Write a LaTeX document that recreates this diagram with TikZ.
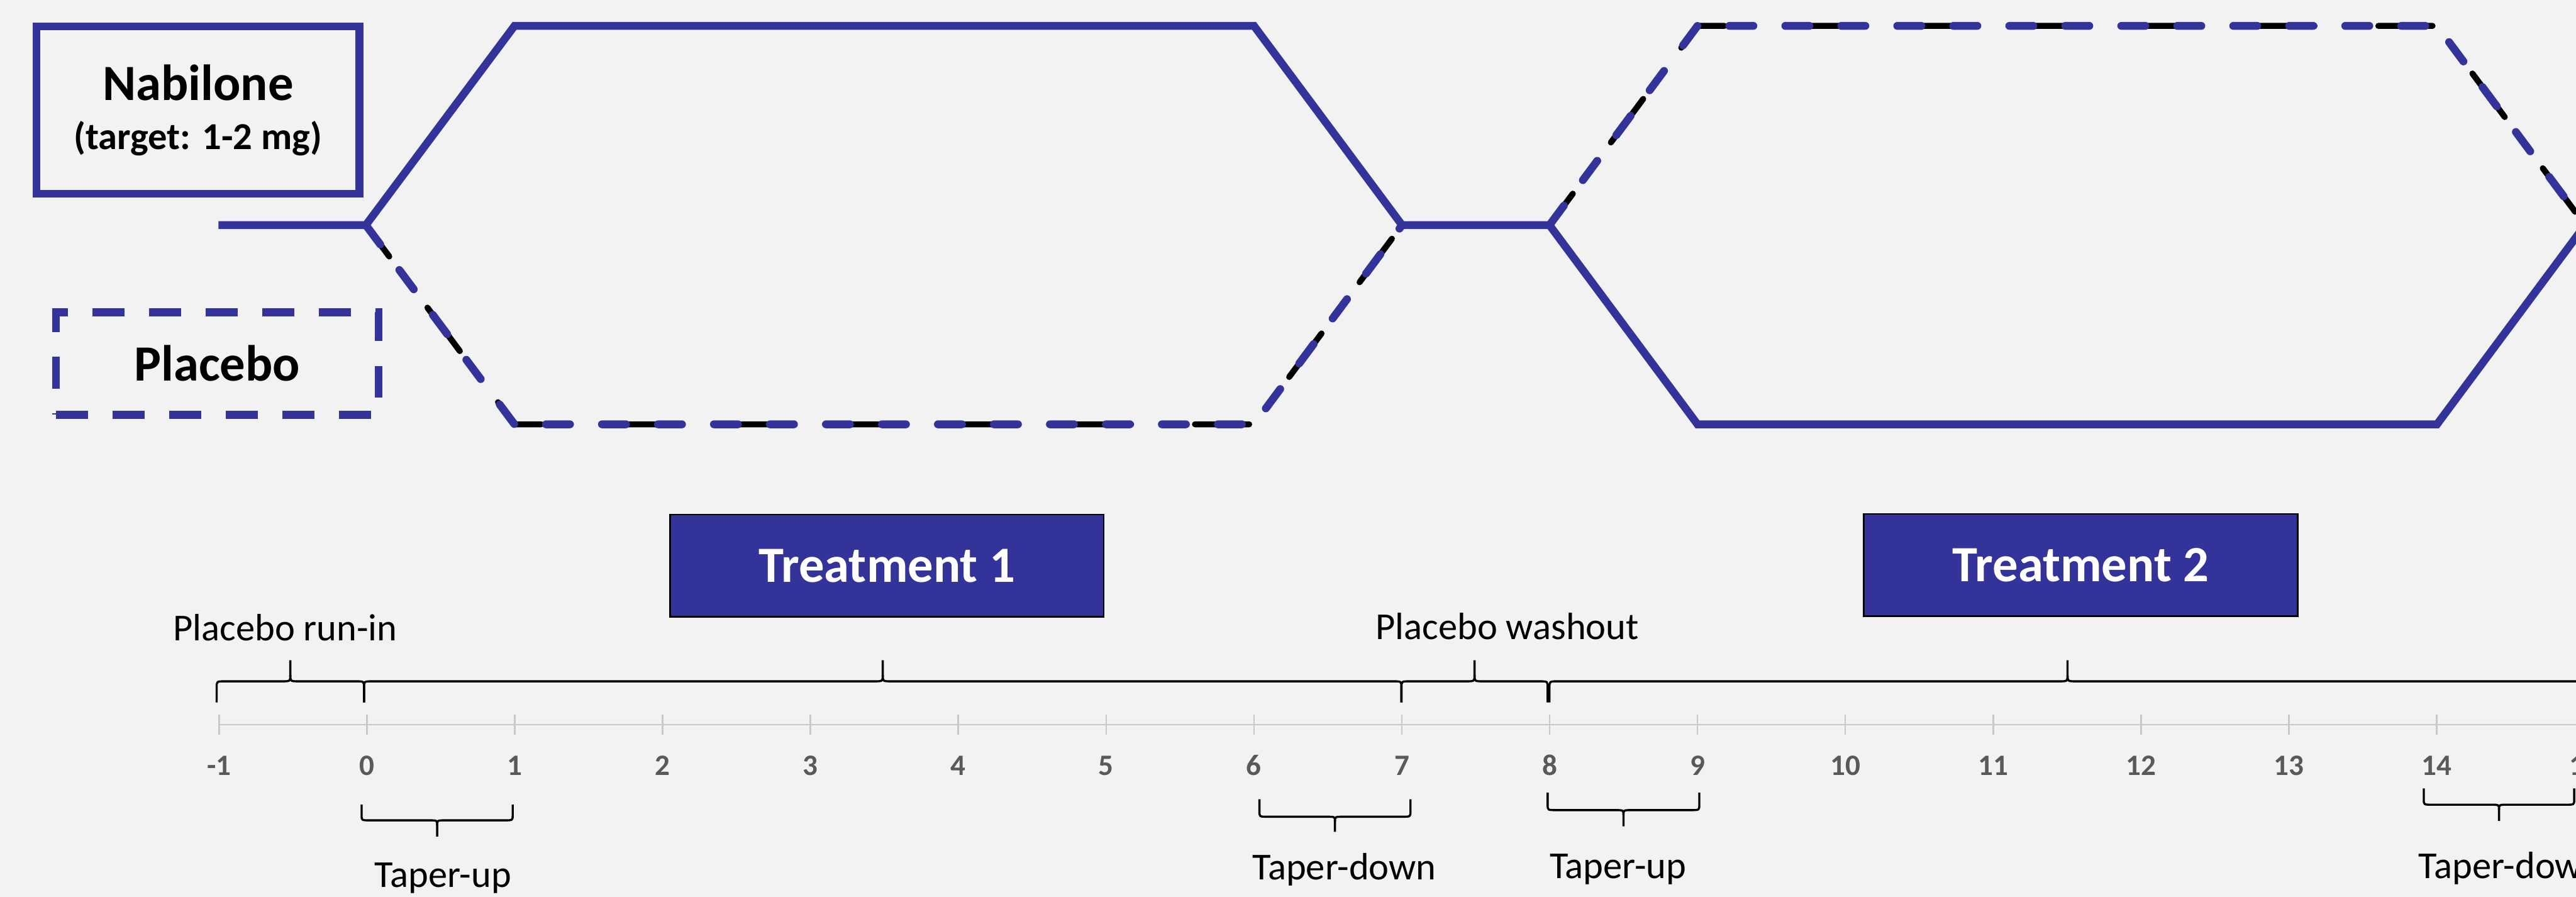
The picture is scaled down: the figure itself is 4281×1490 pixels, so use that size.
\documentclass[tikz,border=0pt]{standalone}
\usepackage{fontspec}
\setmainfont{Carlito}
\definecolor{navy}{HTML}{333399}
\definecolor{bgc}{HTML}{F2F2F2}
\definecolor{axisc}{HTML}{C8C8C8}
\definecolor{numc}{HTML}{595959}
% curly brace: x1, x2, y of ends, y of bar, y of tip
\newcommand\mybrace[5]{%
  \pgfmathsetmacro\bm{(#1+#2)/2}%
  \draw[bracestyle] (#1,#3) -- (#1,{#4+0.3*(#3-#4)}) .. controls (#1,#4) .. ({#1+14},#4)
     -- ({\bm-14},#4) .. controls (\bm,#4) .. (\bm,{#4+0.3*(#5-#4)}) -- (\bm,#5);
  \draw[bracestyle] (#2,#3) -- (#2,{#4+0.3*(#3-#4)}) .. controls (#2,#4) .. ({#2-14},#4)
     -- ({\bm+14},#4) .. controls (\bm,#4) .. (\bm,{#4+0.3*(#5-#4)});
}
\begin{document}
\begin{tikzpicture}[x=0.01cm,y=-0.01cm,
  armbox/.style={draw=navy, line width=0.13cm, inner sep=0pt, minimum width=5.36cm, align=center},
  treat/.style={fill=navy, draw=black, line width=0.8pt, minimum width=7.2cm, minimum height=1.7cm,
     text=white, font=\fontsize{24}{29}\selectfont\bfseries},
  solidarm/.style={navy, line width=0.13cm, line join=miter},
  dashunder/.style={black, line width=0.10cm, line cap=round, dash pattern=on 0.90cm off 1.06cm, dash phase=0.25cm},
  dashover/.style={navy, line width=0.13cm, line cap=round, dash pattern=on 0.40cm off 0.53cm},
  bracestyle/.style={black, line width=1pt},
  lbl/.style={font=\fontsize{18}{22}\selectfont, anchor=base, inner sep=0pt},
  daynum/.style={font=\fontsize{14}{17}\selectfont\bfseries, text=numc, anchor=base, inner sep=0pt},
  tickline/.style={axisc, line width=0.75pt}]

\useasboundingbox (0,0) rectangle (4281,1490);
\clip (0,0) rectangle (4281,1490);
\fill[bgc] (0,0) rectangle (4281,1490);

% time axis
\foreach \k in {-1,...,15} {
  \pgfmathsetmacro\xx{364+(\k+1)*245.7}
  \coordinate (t\k) at (\xx,1204);
  \draw[tickline] (\xx,1187) -- (\xx,1221);
  \node[daynum] (n\k) at (\xx,1288) {\k};
}
\coordinate (axisend) at (4300,1204);
\draw[tickline] (t-1) -- (axisend);

% arm paths
\coordinate (a0) at (363,374);
\coordinate (a1) at (608,374);
\coordinate (a2) at (855,43);
\coordinate (a3) at (2084,43);
\coordinate (a4) at (2330,374);
\coordinate (a5) at (2575,374);
\coordinate (a6) at (2821,705);
\coordinate (a7) at (4050,705);
\coordinate (a8) at (4296,374);
\coordinate (b2) at (855,705);
\coordinate (b3) at (2084,705);
\coordinate (b6) at (2821,43);
\coordinate (b7) at (4050,43);

\draw[solidarm] (a0) -- (a1) -- (a2) -- (a3) -- (a4) -- (a5) -- (a6) -- (a7) -- (a8);
\draw[dashunder] (a1) -- (b2) -- (b3) -- (a4);
\draw[dashover] (a1) -- (b2) -- (b3) -- (a4);
\draw[dashunder] (a5) -- (b6) -- (b7) -- (a8);
\draw[dashover] (a5) -- (b6) -- (b7) -- (a8);

% legend boxes
\node[armbox, minimum height=2.78cm, font=\fontsize{18}{23.3}\selectfont\bfseries] (nab) at (329,183)
  {{\fontsize{24}{29}\selectfont Nabilone}\\(target: 1-2 mg)};
\node[armbox, dash pattern=on 0.53cm off 0.41cm, minimum height=1.70cm,
  font=\fontsize{24}{29}\selectfont\bfseries] (plac) at (361,604) {Placebo};

% treatment boxes
\node[treat] (tr1) at (1474,940) {Treatment 1};
\node[treat, minimum width=7.21cm] (tr2) at (3458,939) {Treatment 2};

% phase labels
\node[lbl] (runin) at (474,1064) {Placebo run-in};
\node[lbl] (wash) at (2505,1062) {Placebo washout};
\node[lbl] (tu1) at (736,1474) {Taper-up};
\node[lbl] (td1) at (2234,1462) {Taper-down};
\node[lbl] (tu2) at (2689,1460) {Taper-up};
\node[lbl] (td2) at (4172,1460) {Taper-down};

% braces above axis
\mybrace{360}{605}{1167}{1132}{1097}
\mybrace{605}{2329}{1167}{1132}{1097}
\mybrace{2329}{2572}{1167}{1132}{1097}
\mybrace{2575}{4297}{1167}{1132}{1097}
% braces below axis
\mybrace{601}{852}{1337}{1363}{1390}
\mybrace{2093}{2344}{1328}{1357}{1382}
\mybrace{2572}{2824}{1317}{1346}{1373}
\mybrace{4028}{4278}{1310}{1337}{1364}
\end{tikzpicture}
\end{document}
